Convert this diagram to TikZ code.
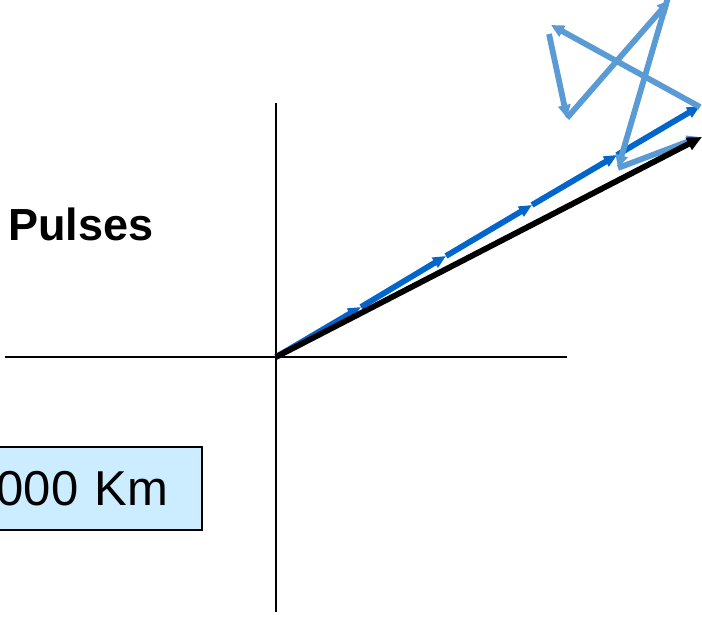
\documentclass[tikz,border=0pt]{standalone}
\usepackage{fontspec}
\setmainfont{Liberation Sans}
\usetikzlibrary{arrows.meta}
\definecolor{cInk}{HTML}{000000}
\definecolor{cPh}{HTML}{0066CC}
\definecolor{cRnd}{HTML}{5B9BD5}
\definecolor{cBox}{HTML}{CCECFF}
\tikzset{
  axis/.style={line width=2.8pt, draw=cInk},
  phasor/.style={-{Triangle[length=13pt,width=11pt]}, line width=5.8pt, draw=cPh},
  rndph/.style={-{Triangle[length=13pt,width=12pt]}, line width=5.8pt, draw=cRnd},
  sumph/.style={-{Triangle[length=15pt,width=13pt]}, line width=5.8pt, draw=cInk},
  lbl/.style={font=\fontsize{45}{50}\selectfont\bfseries, inner sep=0pt, text=cInk},
  dist/.style={draw=cInk, line width=1.8pt, fill=cBox, font=\fontsize{49}{54}\selectfont,
     inner xsep=34pt, inner ysep=0pt, text width=180pt, align=right, minimum height=83pt},
}
\begin{document}
\begin{tikzpicture}[x=1pt,y=-1pt]
\clip (0,0) rectangle (702,617);
\useasboundingbox (0,0) rectangle (702,617);
% axes
\coordinate (o) at (276,357);
\coordinate (yt) at (276,103);
\coordinate (yb) at (276,612);
\coordinate (xl) at (5,357);
\coordinate (xr) at (567,357);
\draw[axis] (yt) -- (yb);
\draw[axis] (xl) -- (xr);
% in-phase pulses
\coordinate (p0) at (o);
\coordinate (p1) at (361,307);
\coordinate (p2) at (446,256);
\coordinate (p3) at (532,205);
\coordinate (p4) at (617,155);
\coordinate (p5) at (700,106);
\foreach \a/\b in {p0/p1,p1/p2,p2/p3,p3/p4,p4/p5}
  \draw[phasor] (\a) -- (\b);
% random phases
\coordinate (q0) at (700,107);
\coordinate (q1) at (551,25);
\coordinate (r1) at (549,34);
\coordinate (q2) at (567,118);
\coordinate (q3) at (670,0);
\coordinate (r3) at (669,-6);
\coordinate (q4) at (618,168);
\coordinate (q5) at (700,137);
\foreach \a/\b in {q0/q1,r1/q2,q2/q3,r3/q4,q4/q5}
  \draw[rndph] (\a) -- (\b);
% resultant
\coordinate (s) at (702,137);
\draw[sumph] (o) -- (s);
% labels
\node[lbl, anchor=base west] (pulses) at (8,241) {Pulses};
\node[dist, anchor=north east] (range) at (203,446) {000 Km};
\end{tikzpicture}
\end{document}
